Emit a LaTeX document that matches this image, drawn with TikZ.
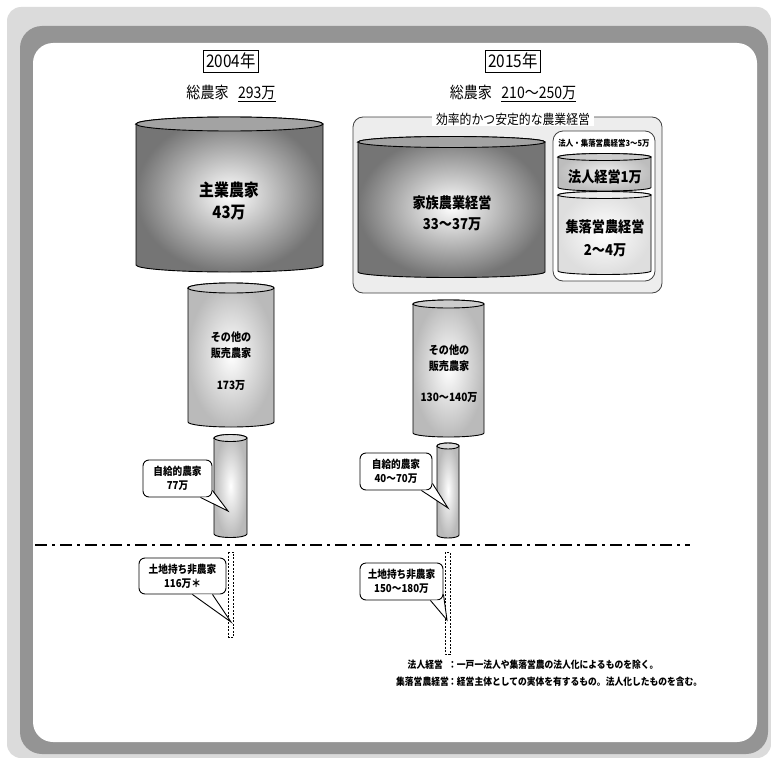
\documentclass[tikz,border=0pt]{standalone}
\usepackage{fontspec}
\setmainfont{Noto Sans CJK JP}[FakeStretch=0.88]
\usetikzlibrary{calc}
\newcommand{\drawcyl}[8]{%
  \pgfmathsetmacro\cylcx{(#1+#2)/2}%
  \pgfmathsetmacro\cylrx{(#2-#1)/2}%
  \shade[cylline, inner color=#6, outer color=#7] (#1,#3) -- (#1,#4)
    arc[start angle=180, end angle=360, x radius=\cylrx bp, y radius=#5 bp] -- (#2,#3)
    arc[start angle=0, end angle=180, x radius=\cylrx bp, y radius=#5 bp] -- cycle;
  \filldraw[cylline, fill=#8] (\cylcx,#3) ellipse[x radius=\cylrx bp, y radius=#5 bp];
}
% #1 callout node, #2 tip coordinate, #3 and #4 base offsets from the south east corner
\newcommand{\callptr}[4]{%
  \fill[white] ($(#1.south east)+#3$) -- (#2) -- ($(#1.south east)+#4$) -- (#1.south east) -- cycle;
  \draw[ptrline] ($(#1.south east)+#3$) -- (#2) -- ($(#1.south east)+#4$);
}
\tikzset{
  cylline/.style={draw=black, line width=0.9bp},
  ptrline/.style={draw=black, line width=0.9bp, line join=miter},
  yearbox/.style={draw=black, line width=0.8bp, inner xsep=2.5bp, inner ysep=3bp, fill=white, font=\fontsize{17.5}{19}\selectfont},
  tottxt/.style={inner sep=0pt, font=\fontsize{16}{18}\selectfont},
  bigtxt/.style={inner sep=0pt, font=\fontsize{17}{19}\selectfont\bfseries},
  medtxt/.style={inner sep=0pt, font=\fontsize{15}{17}\selectfont\bfseries},
  smalltxt/.style={inner sep=0pt, font=\fontsize{11.5}{13}\selectfont\bfseries},
  callbox/.style={draw=black, line width=0.9bp, rounded corners=6bp, fill=white, align=center,
    inner sep=0pt, font=\fontsize{11}{14}\selectfont\bfseries},
  dotbar/.style={draw=black, line width=0.7bp, dash pattern=on 2bp off 1.5bp},
  ddline/.style={draw=black, line width=2.6bp, dash pattern=on 12bp off 5bp on 3bp off 5bp},
  groupbox/.style={draw=black!75, line width=0.8bp, rounded corners=10bp},
  notetxt/.style={inner sep=0pt, font=\fontsize{10}{12}\selectfont\bfseries},
}
\begin{document}
\begin{tikzpicture}[x=1bp, y=-1bp]
\useasboundingbox (0,0) rectangle (771,758);
% frame
\fill[black!14, rounded corners=14bp] (7,7) rectangle (771,758);
\fill[black!42, rounded corners=22bp] (20,26) rectangle (768,754);
\fill[white, rounded corners=20bp] (33,43) rectangle (757,742);

% ===== 2004 =====
\node[yearbox] (y04) at (231,61) {2004年};
\node[tottxt] (t04) at (231,93) {総農家\hspace{0.6em}\underline{293万}};
\drawcyl{136}{323}{124}{265}{7}{white}{black!54}{black!36}
\node[bigtxt] (m04a) at (229,190) {主業農家};
\node[bigtxt] (m04b) at (229,213) {43万};
\drawcyl{188}{274}{288}{422}{5}{white}{black!27}{black!20}
\node[smalltxt] (o04a) at (231,337) {その他の};
\node[smalltxt] (o04b) at (231,353) {販売農家};
\node[smalltxt] (o04c) at (231,385) {173万};
\drawcyl{214}{247}{438}{534}{3.5}{white}{black!27}{black!15}
\node[callbox, minimum width=69bp, minimum height=37bp] (c04a) at (177.5,478.5) {自給的農家\\77万};
\coordinate (tip04a) at (228,511);
\callptr{c04a}{tip04a}{(-12,0)}{(0,-7)}

% ===== 2015 =====
\node[yearbox] (y15) at (513,61) {2015年};
\node[tottxt] (t15) at (513,93) {総農家\hspace{0.6em}\underline{210～250万}};
\fill[black!7, rounded corners=10bp] (353,117) rectangle (662,293);
\draw[groupbox] (353,117) rectangle (662,293);
\node[fill=white, inner xsep=4bp, inner ysep=1bp, font=\fontsize{13.5}{15}\selectfont] (gtitle) at (513,119) {効率的かつ安定的な農業経営};
\drawcyl{358}{545}{142}{272}{5.5}{white}{black!54}{black!36}
\node[medtxt] (f15a) at (452,203) {家族農業経営};
\node[medtxt] (f15b) at (452,224) {33～37万};
\filldraw[groupbox, fill=white] (553,131) rectangle (655,281);
\node[inner sep=0pt, font=\fontsize{8.5}{10}\selectfont\bfseries] (sub15) at (604,143) {法人・集落営農経営3～5万};
\drawcyl{558}{651}{157}{187.5}{3.5}{black!6}{black!26}{black!20}
\node[medtxt] (h15) at (605,177) {法人経営1万};
\drawcyl{558}{651}{195}{271}{3.5}{white}{black!13}{black!8}
\node[medtxt] (s15a) at (605,227) {集落営農経営};
\node[medtxt] (s15b) at (605,250) {2～4万};
\drawcyl{413}{484}{304}{433}{4}{white}{black!27}{black!20}
\node[smalltxt] (o15a) at (449,350) {その他の};
\node[smalltxt] (o15b) at (449,366) {販売農家};
\node[smalltxt] (o15c) at (449,397) {130～140万};
\drawcyl{437}{459}{446}{535}{3}{white}{black!27}{black!15}
\node[callbox, minimum width=72bp, minimum height=37bp] (c15a) at (396,471.5) {自給的農家\\40～70万};
\coordinate (tip15a) at (448,508);
\callptr{c15a}{tip15a}{(-11,0)}{(0,-7)}

% ===== dash-dot boundary =====
\coordinate (dd1) at (35,545);
\coordinate (dd2) at (690,545);
\draw[ddline] (dd1) -- (dd2);

% ===== non-farm land owners =====
\draw[dotbar] (228.5,552) rectangle (233.5,637);
\node[callbox, minimum width=87bp, minimum height=36bp] (c04b) at (182.5,576) {土地持ち非農家\\116万＊};
\coordinate (tip04b) at (231,622);
\callptr{c04b}{tip04b}{(-34,0)}{(-14,0)}
\draw[dotbar] (445,552) rectangle (450,654);
\node[callbox, minimum width=83bp, minimum height=37bp] (c15b) at (401.5,581.5) {土地持ち非農家\\150～180万};
\coordinate (tip15b) at (447,620);
\callptr{c15b}{tip15b}{(-13,0)}{(0,-6)}

% ===== notes =====
\node[notetxt, anchor=east] (n1l) at (443,665) {法人経営};
\node[notetxt, anchor=west] (n1r) at (448,665) {：一戸一法人や集落営農の法人化によるものを除く。};
\node[notetxt, anchor=east] (n2l) at (449,682) {集落営農経営};
\node[notetxt, anchor=west] (n2r) at (448,682) {：経営主体としての実体を有するもの。法人化したものを含む。};
\end{tikzpicture}
\end{document}
